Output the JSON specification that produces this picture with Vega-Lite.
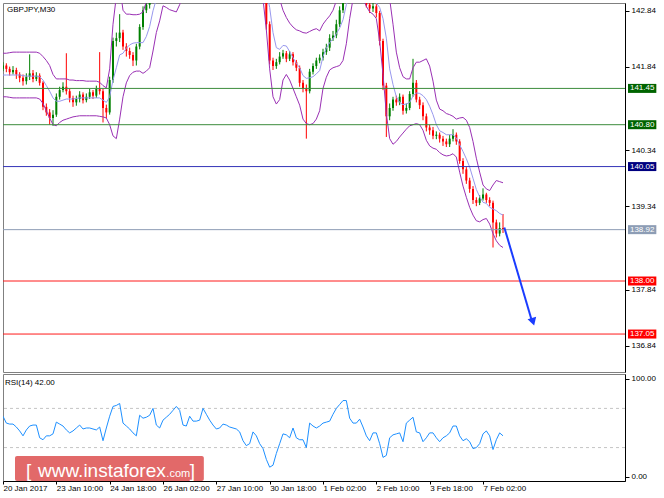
{
"$schema":"https://vega.github.io/schema/vega-lite/v6.json",
"background":"white",
"padding":{"left":2,"top":2,"right":0,"bottom":0},
"spacing":0,
"config":{"font":"Liberation Sans","view":{"stroke":"#808080","strokeWidth":1},
"scale":{"continuousPadding":0},
"axis":{"labelFont":"Liberation Sans","labelFontSize":8,"labelColor":"#000","tickColor":"#000","domainColor":"#000","grid":false,"tickSize":4,"labelPadding":2,"labelOverlap":false}},
"datasets":{
"px":[
{"i":0,"o":141.80,"h":141.92,"l":141.76,"c":141.86,"u":142.08,"m":141.69,"b":141.30,"r":62},
{"i":4,"o":141.86,"h":141.90,"l":141.74,"c":141.80,"u":142.08,"m":141.69,"b":141.30,"r":55},
{"i":8,"o":141.80,"h":141.84,"l":141.68,"c":141.74,"u":142.09,"m":141.69,"b":141.29,"r":54},
{"i":12,"o":141.74,"h":141.85,"l":141.70,"c":141.78,"u":142.10,"m":141.69,"b":141.28,"r":54},
{"i":16,"o":141.78,"h":141.82,"l":141.62,"c":141.70,"u":142.10,"m":141.69,"b":141.28,"r":51},
{"i":20,"o":141.70,"h":141.74,"l":141.56,"c":141.64,"u":142.10,"m":141.69,"b":141.28,"r":47},
{"i":24,"o":141.64,"h":141.70,"l":141.50,"c":141.58,"u":142.10,"m":141.68,"b":141.28,"r":42},
{"i":28,"o":141.58,"h":141.72,"l":141.52,"c":141.66,"u":142.10,"m":141.67,"b":141.28,"r":48},
{"i":32,"o":141.66,"h":142.06,"l":141.60,"c":141.72,"u":142.10,"m":141.67,"b":141.28,"r":52},
{"i":36,"o":141.72,"h":141.78,"l":141.56,"c":141.62,"u":142.10,"m":141.67,"b":141.28,"r":53},
{"i":40,"o":141.62,"h":141.74,"l":141.58,"c":141.68,"u":142.10,"m":141.67,"b":141.28,"r":53},
{"i":44,"o":141.68,"h":141.72,"l":141.50,"c":141.55,"u":142.08,"m":141.66,"b":141.26,"r":40},
{"i":48,"o":141.55,"h":141.58,"l":141.06,"c":141.12,"u":142.02,"m":141.60,"b":141.18,"r":38},
{"i":52,"o":141.12,"h":141.18,"l":140.96,"c":141.02,"u":141.95,"m":141.50,"b":141.05,"r":42},
{"i":56,"o":141.02,"h":141.08,"l":140.80,"c":140.92,"u":141.86,"m":141.40,"b":140.92,"r":42},
{"i":60,"o":140.92,"h":141.06,"l":140.78,"c":140.98,"u":141.70,"m":141.28,"b":140.80,"r":44},
{"i":64,"o":140.98,"h":141.36,"l":140.94,"c":141.30,"u":141.62,"m":141.22,"b":140.78,"r":56},
{"i":68,"o":141.30,"h":141.48,"l":141.25,"c":141.42,"u":141.62,"m":141.22,"b":140.84,"r":54},
{"i":72,"o":141.42,"h":141.56,"l":141.38,"c":141.48,"u":141.62,"m":141.24,"b":140.88,"r":52},
{"i":76,"o":141.48,"h":142.08,"l":141.34,"c":141.40,"u":141.62,"m":141.26,"b":140.90,"r":48},
{"i":80,"o":141.40,"h":141.44,"l":141.20,"c":141.28,"u":141.60,"m":141.26,"b":140.92,"r":45},
{"i":84,"o":141.28,"h":141.32,"l":141.12,"c":141.20,"u":141.60,"m":141.26,"b":140.94,"r":47},
{"i":88,"o":141.20,"h":141.32,"l":141.14,"c":141.26,"u":141.59,"m":141.27,"b":140.95,"r":50},
{"i":92,"o":141.26,"h":141.40,"l":141.20,"c":141.34,"u":141.59,"m":141.28,"b":140.96,"r":53},
{"i":96,"o":141.34,"h":141.38,"l":141.18,"c":141.24,"u":141.59,"m":141.28,"b":140.96,"r":49},
{"i":100,"o":141.24,"h":141.36,"l":141.20,"c":141.30,"u":141.58,"m":141.28,"b":140.96,"r":50},
{"i":104,"o":141.30,"h":141.44,"l":141.26,"c":141.38,"u":141.58,"m":141.28,"b":140.96,"r":50},
{"i":108,"o":141.38,"h":141.42,"l":141.26,"c":141.32,"u":141.58,"m":141.28,"b":140.96,"r":49},
{"i":112,"o":141.32,"h":141.50,"l":141.28,"c":141.44,"u":141.58,"m":141.28,"b":140.96,"r":48},
{"i":116,"o":141.44,"h":142.10,"l":141.34,"c":141.40,"u":141.56,"m":141.28,"b":140.95,"r":51},
{"i":120,"o":141.40,"h":141.44,"l":140.84,"c":141.10,"u":141.50,"m":141.24,"b":140.94,"r":37},
{"i":124,"o":141.10,"h":141.16,"l":140.92,"c":141.02,"u":141.46,"m":141.20,"b":140.92,"r":50},
{"i":128,"o":141.02,"h":141.66,"l":140.98,"c":141.60,"u":141.80,"m":141.30,"b":140.80,"r":62},
{"i":132,"o":141.60,"h":142.36,"l":141.55,"c":142.30,"u":142.60,"m":141.60,"b":140.60,"r":72},
{"i":136,"o":142.30,"h":142.45,"l":142.20,"c":142.35,"u":143.10,"m":141.82,"b":140.55,"r":73},
{"i":140,"o":142.35,"h":142.78,"l":142.28,"c":142.45,"u":143.30,"m":142.05,"b":140.90,"r":75},
{"i":144,"o":142.45,"h":142.50,"l":142.14,"c":142.20,"u":142.85,"m":142.08,"b":141.30,"r":55},
{"i":148,"o":142.20,"h":142.26,"l":142.02,"c":142.12,"u":142.78,"m":142.17,"b":141.55,"r":52},
{"i":152,"o":142.12,"h":142.18,"l":141.98,"c":142.05,"u":142.78,"m":142.23,"b":141.68,"r":49},
{"i":156,"o":142.05,"h":142.10,"l":141.85,"c":141.95,"u":142.77,"m":142.26,"b":141.74,"r":45},
{"i":160,"o":141.95,"h":142.25,"l":141.86,"c":142.20,"u":142.77,"m":142.27,"b":141.76,"r":42},
{"i":164,"o":142.20,"h":142.60,"l":142.15,"c":142.55,"u":142.78,"m":142.27,"b":141.76,"r":63},
{"i":168,"o":142.55,"h":142.92,"l":142.50,"c":142.85,"u":142.82,"m":142.27,"b":141.72,"r":60},
{"i":172,"o":142.85,"h":143.05,"l":142.80,"c":142.95,"u":143.00,"m":142.38,"b":141.76,"r":61},
{"i":176,"o":142.95,"h":143.15,"l":142.88,"c":143.05,"u":143.30,"m":142.56,"b":141.82,"r":63},
{"i":180,"o":143.05,"h":143.20,"l":142.98,"c":143.10,"u":143.55,"m":142.84,"b":142.12,"r":70},
{"i":184,"o":143.10,"h":143.28,"l":143.02,"c":143.20,"u":143.65,"m":143.05,"b":142.45,"r":53},
{"i":188,"o":143.20,"h":143.32,"l":143.12,"c":143.25,"u":143.72,"m":143.19,"b":142.66,"r":50},
{"i":192,"o":143.25,"h":143.42,"l":143.18,"c":143.35,"u":143.80,"m":143.37,"b":142.93,"r":58},
{"i":196,"o":143.35,"h":143.48,"l":143.30,"c":143.42,"u":143.85,"m":143.38,"b":142.90,"r":61},
{"i":200,"o":143.42,"h":143.55,"l":143.36,"c":143.48,"u":143.92,"m":143.40,"b":142.86,"r":64},
{"i":204,"o":143.48,"h":143.60,"l":143.42,"c":143.55,"u":144.00,"m":143.42,"b":142.84,"r":68},
{"i":208,"o":143.55,"h":143.70,"l":143.50,"c":143.62,"u":144.08,"m":143.45,"b":142.82,"r":72},
{"i":212,"o":143.62,"h":143.66,"l":143.44,"c":143.50,"u":144.12,"m":143.50,"b":142.95,"r":68},
{"i":216,"o":143.50,"h":143.55,"l":143.38,"c":143.45,"u":144.10,"m":143.55,"b":143.15,"r":53},
{"i":220,"o":143.45,"h":143.58,"l":143.40,"c":143.52,"u":144.08,"m":143.58,"b":143.20,"r":52},
{"i":224,"o":143.52,"h":143.66,"l":143.48,"c":143.60,"u":144.06,"m":143.60,"b":143.22,"r":62},
{"i":228,"o":143.60,"h":143.64,"l":143.50,"c":143.55,"u":144.02,"m":143.62,"b":143.25,"r":57},
{"i":232,"o":143.55,"h":143.64,"l":143.50,"c":143.58,"u":144.00,"m":143.63,"b":143.28,"r":57},
{"i":236,"o":143.58,"h":143.68,"l":143.52,"c":143.62,"u":143.98,"m":143.63,"b":143.30,"r":58},
{"i":240,"o":143.62,"h":143.76,"l":143.58,"c":143.70,"u":144.02,"m":143.64,"b":143.30,"r":70},
{"i":244,"o":143.70,"h":143.74,"l":143.56,"c":143.62,"u":144.02,"m":143.63,"b":143.28,"r":64},
{"i":248,"o":143.62,"h":143.66,"l":143.52,"c":143.58,"u":144.00,"m":143.61,"b":143.26,"r":58},
{"i":252,"o":143.58,"h":143.62,"l":143.46,"c":143.52,"u":143.96,"m":143.59,"b":143.24,"r":53},
{"i":256,"o":143.52,"h":143.56,"l":143.42,"c":143.48,"u":143.92,"m":143.57,"b":143.22,"r":49},
{"i":260,"o":143.48,"h":143.58,"l":143.44,"c":143.52,"u":143.90,"m":143.55,"b":143.20,"r":50},
{"i":264,"o":143.52,"h":143.60,"l":143.48,"c":143.55,"u":143.88,"m":143.54,"b":143.20,"r":54},
{"i":268,"o":143.55,"h":143.58,"l":143.44,"c":143.50,"u":143.86,"m":143.53,"b":143.20,"r":53},
{"i":272,"o":143.50,"h":143.54,"l":143.42,"c":143.48,"u":143.84,"m":143.52,"b":143.20,"r":51},
{"i":276,"o":143.48,"h":143.52,"l":143.40,"c":143.46,"u":143.82,"m":143.50,"b":143.18,"r":50},
{"i":280,"o":143.46,"h":143.50,"l":143.38,"c":143.44,"u":143.80,"m":143.48,"b":143.16,"r":49},
{"i":284,"o":143.44,"h":143.48,"l":143.34,"c":143.40,"u":143.80,"m":143.46,"b":143.12,"r":46},
{"i":288,"o":143.40,"h":143.44,"l":143.26,"c":143.32,"u":143.82,"m":143.44,"b":143.08,"r":37},
{"i":292,"o":143.32,"h":143.36,"l":143.22,"c":143.28,"u":143.85,"m":143.43,"b":143.06,"r":32},
{"i":296,"o":143.28,"h":143.40,"l":143.24,"c":143.34,"u":143.88,"m":143.43,"b":143.06,"r":34},
{"i":300,"o":143.34,"h":143.48,"l":143.30,"c":143.42,"u":143.90,"m":143.44,"b":143.08,"r":46},
{"i":304,"o":143.42,"h":143.46,"l":143.30,"c":143.35,"u":143.92,"m":143.44,"b":143.08,"r":42},
{"i":308,"o":143.35,"h":143.40,"l":143.22,"c":143.28,"u":144.00,"m":143.43,"b":143.06,"r":34},
{"i":312,"o":143.28,"h":143.32,"l":143.04,"c":143.10,"u":144.30,"m":143.40,"b":143.05,"r":29},
{"i":316,"o":143.10,"h":143.12,"l":142.50,"c":142.60,"u":144.20,"m":143.20,"b":142.50,"r":18},
{"i":320,"o":142.60,"h":142.65,"l":141.88,"c":141.95,"u":144.00,"m":142.90,"b":141.80,"r":10},
{"i":324,"o":141.95,"h":142.00,"l":141.78,"c":141.85,"u":143.60,"m":142.45,"b":141.30,"r":12},
{"i":328,"o":141.85,"h":141.98,"l":141.80,"c":141.92,"u":143.20,"m":142.18,"b":141.17,"r":24},
{"i":332,"o":141.92,"h":142.10,"l":141.88,"c":142.02,"u":143.05,"m":142.15,"b":141.25,"r":34},
{"i":336,"o":142.02,"h":142.14,"l":141.98,"c":142.08,"u":142.85,"m":142.22,"b":141.60,"r":44},
{"i":340,"o":142.08,"h":142.12,"l":141.92,"c":141.98,"u":142.72,"m":142.21,"b":141.70,"r":43},
{"i":344,"o":141.98,"h":142.12,"l":141.94,"c":142.06,"u":142.62,"m":142.11,"b":141.60,"r":40},
{"i":348,"o":142.06,"h":142.10,"l":141.86,"c":141.92,"u":142.55,"m":142.00,"b":141.45,"r":50},
{"i":352,"o":141.92,"h":141.96,"l":141.76,"c":141.82,"u":142.50,"m":141.90,"b":141.30,"r":40},
{"i":356,"o":141.82,"h":141.86,"l":141.48,"c":141.55,"u":142.48,"m":141.82,"b":141.15,"r":38},
{"i":360,"o":141.55,"h":141.60,"l":141.38,"c":141.45,"u":142.45,"m":141.68,"b":140.90,"r":38},
{"i":364,"o":141.45,"h":141.52,"l":140.55,"c":141.40,"u":142.44,"m":141.63,"b":140.82,"r":30},
{"i":368,"o":141.40,"h":141.80,"l":141.36,"c":141.75,"u":142.47,"m":141.64,"b":140.80,"r":55},
{"i":372,"o":141.75,"h":141.90,"l":141.70,"c":141.85,"u":142.50,"m":141.66,"b":140.82,"r":52},
{"i":376,"o":141.85,"h":142.00,"l":141.80,"c":141.95,"u":142.52,"m":141.71,"b":140.90,"r":50},
{"i":380,"o":141.95,"h":142.06,"l":141.90,"c":142.00,"u":142.48,"m":141.77,"b":141.05,"r":52},
{"i":384,"o":142.00,"h":142.16,"l":141.95,"c":142.10,"u":142.60,"m":142.02,"b":141.45,"r":55},
{"i":388,"o":142.10,"h":142.25,"l":142.05,"c":142.18,"u":142.68,"m":142.17,"b":141.65,"r":56},
{"i":392,"o":142.18,"h":142.42,"l":142.12,"c":142.35,"u":142.75,"m":142.27,"b":141.78,"r":57},
{"i":396,"o":142.35,"h":142.48,"l":142.30,"c":142.40,"u":142.85,"m":142.34,"b":141.82,"r":64},
{"i":400,"o":142.40,"h":142.68,"l":142.35,"c":142.60,"u":143.02,"m":142.43,"b":141.84,"r":70},
{"i":404,"o":142.60,"h":142.92,"l":142.55,"c":142.85,"u":143.20,"m":142.53,"b":141.86,"r":74},
{"i":408,"o":142.85,"h":143.12,"l":142.80,"c":143.05,"u":143.40,"m":142.68,"b":141.95,"r":78},
{"i":412,"o":143.05,"h":143.22,"l":143.00,"c":143.15,"u":143.60,"m":142.95,"b":142.25,"r":78},
{"i":416,"o":143.15,"h":143.20,"l":143.04,"c":143.10,"u":143.80,"m":143.10,"b":142.70,"r":60},
{"i":420,"o":143.10,"h":143.18,"l":143.06,"c":143.12,"u":143.90,"m":143.20,"b":143.05,"r":55},
{"i":424,"o":143.12,"h":143.20,"l":143.08,"c":143.15,"u":144.00,"m":143.25,"b":143.20,"r":55},
{"i":428,"o":143.15,"h":143.24,"l":143.10,"c":143.18,"u":144.00,"m":143.25,"b":143.20,"r":59},
{"i":432,"o":143.18,"h":143.22,"l":143.05,"c":143.10,"u":143.95,"m":143.20,"b":143.05,"r":51},
{"i":436,"o":143.10,"h":143.12,"l":142.90,"c":142.95,"u":143.90,"m":143.15,"b":142.92,"r":42},
{"i":440,"o":142.95,"h":143.00,"l":142.80,"c":142.88,"u":143.80,"m":143.08,"b":142.82,"r":37},
{"i":444,"o":142.88,"h":142.98,"l":142.82,"c":142.92,"u":143.70,"m":143.02,"b":142.78,"r":45},
{"i":448,"o":142.92,"h":142.96,"l":142.72,"c":142.80,"u":143.60,"m":142.98,"b":142.70,"r":45},
{"i":452,"o":142.80,"h":142.84,"l":142.22,"c":142.30,"u":143.60,"m":142.90,"b":142.30,"r":34},
{"i":456,"o":142.30,"h":142.34,"l":141.42,"c":141.50,"u":143.70,"m":142.70,"b":141.70,"r":20},
{"i":460,"o":141.50,"h":141.55,"l":140.58,"c":140.95,"u":143.60,"m":142.35,"b":141.00,"r":22},
{"i":464,"o":140.95,"h":141.18,"l":140.88,"c":141.10,"u":143.05,"m":141.80,"b":140.55,"r":40},
{"i":468,"o":141.10,"h":141.30,"l":141.05,"c":141.25,"u":142.60,"m":141.52,"b":140.45,"r":43},
{"i":472,"o":141.25,"h":141.32,"l":141.14,"c":141.20,"u":142.10,"m":141.30,"b":140.50,"r":44},
{"i":476,"o":141.20,"h":141.36,"l":141.15,"c":141.30,"u":141.82,"m":141.20,"b":140.58,"r":45},
{"i":480,"o":141.30,"h":141.34,"l":140.98,"c":141.05,"u":141.66,"m":141.16,"b":140.65,"r":36},
{"i":484,"o":141.05,"h":141.18,"l":141.00,"c":141.10,"u":141.62,"m":141.17,"b":140.72,"r":55},
{"i":488,"o":141.10,"h":141.40,"l":141.06,"c":141.35,"u":141.62,"m":141.20,"b":140.78,"r":58},
{"i":492,"o":141.35,"h":141.98,"l":141.30,"c":141.55,"u":141.82,"m":141.31,"b":140.80,"r":61},
{"i":496,"o":141.55,"h":141.60,"l":141.20,"c":141.25,"u":141.92,"m":141.37,"b":140.82,"r":46},
{"i":500,"o":141.25,"h":141.30,"l":141.08,"c":141.15,"u":141.92,"m":141.36,"b":140.80,"r":45},
{"i":504,"o":141.15,"h":141.20,"l":140.88,"c":140.95,"u":141.95,"m":141.32,"b":140.70,"r":36},
{"i":508,"o":140.95,"h":141.00,"l":140.68,"c":140.75,"u":141.98,"m":141.25,"b":140.52,"r":40},
{"i":512,"o":140.75,"h":140.80,"l":140.62,"c":140.70,"u":141.85,"m":141.13,"b":140.42,"r":45},
{"i":516,"o":140.70,"h":140.76,"l":140.54,"c":140.60,"u":141.58,"m":140.98,"b":140.38,"r":45},
{"i":520,"o":140.60,"h":140.68,"l":140.54,"c":140.62,"u":141.24,"m":140.80,"b":140.36,"r":40},
{"i":524,"o":140.62,"h":140.66,"l":140.48,"c":140.55,"u":141.08,"m":140.69,"b":140.30,"r":36},
{"i":528,"o":140.55,"h":140.60,"l":140.42,"c":140.50,"u":141.05,"m":140.66,"b":140.26,"r":40},
{"i":532,"o":140.50,"h":140.55,"l":140.40,"c":140.45,"u":141.00,"m":140.62,"b":140.24,"r":42},
{"i":536,"o":140.45,"h":140.62,"l":140.40,"c":140.55,"u":140.98,"m":140.62,"b":140.25,"r":45},
{"i":540,"o":140.55,"h":140.72,"l":140.50,"c":140.62,"u":140.95,"m":140.62,"b":140.28,"r":52},
{"i":544,"o":140.62,"h":140.66,"l":140.44,"c":140.50,"u":140.90,"m":140.56,"b":140.22,"r":52},
{"i":548,"o":140.50,"h":140.54,"l":140.10,"c":140.15,"u":140.92,"m":140.44,"b":139.95,"r":42},
{"i":552,"o":140.15,"h":140.20,"l":139.92,"c":140.00,"u":140.93,"m":140.32,"b":139.70,"r":37},
{"i":556,"o":140.00,"h":140.04,"l":139.74,"c":139.80,"u":140.88,"m":140.19,"b":139.50,"r":39},
{"i":560,"o":139.80,"h":139.85,"l":139.58,"c":139.65,"u":140.75,"m":140.04,"b":139.32,"r":36},
{"i":564,"o":139.65,"h":139.70,"l":139.38,"c":139.45,"u":140.50,"m":139.84,"b":139.18,"r":29},
{"i":568,"o":139.45,"h":139.50,"l":139.34,"c":139.40,"u":140.20,"m":139.64,"b":139.08,"r":30},
{"i":572,"o":139.40,"h":139.54,"l":139.36,"c":139.48,"u":139.95,"m":139.51,"b":139.06,"r":34},
{"i":576,"o":139.48,"h":139.66,"l":139.44,"c":139.55,"u":139.72,"m":139.41,"b":139.10,"r":44},
{"i":580,"o":139.55,"h":139.58,"l":139.40,"c":139.45,"u":139.65,"m":139.39,"b":139.12,"r":47},
{"i":584,"o":139.45,"h":139.50,"l":139.34,"c":139.40,"u":139.62,"m":139.32,"b":139.02,"r":42},
{"i":588,"o":139.40,"h":139.44,"l":138.60,"c":139.05,"u":139.72,"m":139.29,"b":138.85,"r":28},
{"i":592,"o":139.05,"h":139.10,"l":138.78,"c":138.85,"u":139.80,"m":139.26,"b":138.72,"r":38},
{"i":596,"o":138.85,"h":139.05,"l":138.80,"c":138.95,"u":139.78,"m":139.21,"b":138.64,"r":45},
{"i":600,"o":138.95,"h":139.20,"l":138.86,"c":138.92,"u":139.76,"m":139.18,"b":138.60,"r":42}
],
"lv":[{"p":141.45,"k":"R"},{"p":140.80,"k":"R"},{"p":140.05,"k":"P"},{"p":138.92,"k":"C"},{"p":138.00,"k":"S"},{"p":137.05,"k":"S"}],
"rg":[{"v":30},{"v":70}]
},
"vconcat":[
{
"width":622,"height":369,
"layer":[
{"data":{"name":"px"},"mark":{"type":"rule","clip":true,"strokeWidth":1},
 "encoding":{
  "x":{"field":"i","type":"quantitative","scale":{"domain":[0,746.4],"nice":false,"zero":false,"padding":0},"axis":null,"title":null},
  "y":{"field":"l","type":"quantitative","scale":{"domain":[136.37,142.98],"nice":false,"zero":false,"padding":0},"title":null,
       "axis":{"orient":"right","values":[136.84,137.34,137.84,138.34,139.34,139.84,140.34,141.34,141.84,142.34,142.84],"format":".2f","labelPadding":2}},
  "y2":{"field":"h"},
  "color":{"condition":{"test":"datum.c >= datum.o","value":"#008000"},"value":"#ff0000"}}},
{"data":{"name":"px"},"mark":{"type":"rule","clip":true,"strokeWidth":2},
 "encoding":{
  "x":{"field":"i","type":"quantitative","axis":null,"title":null},
  "y":{"field":"o","type":"quantitative","title":null},
  "y2":{"field":"c"},
  "color":{"condition":{"test":"datum.c >= datum.o","value":"#008000"},"value":"#ff0000"}}},
{"data":{"name":"px"},"mark":{"type":"line","clip":true,"color":"#9a30b4","strokeWidth":1},
 "encoding":{"x":{"field":"i","type":"quantitative","axis":null,"title":null},"y":{"field":"u","type":"quantitative","title":null}}},
{"data":{"name":"px"},"mark":{"type":"line","clip":true,"color":"#9a30b4","strokeWidth":1},
 "encoding":{"x":{"field":"i","type":"quantitative","axis":null,"title":null},"y":{"field":"b","type":"quantitative","title":null}}},
{"data":{"name":"px"},"mark":{"type":"line","clip":true,"color":"#9898ee","strokeWidth":1},
 "encoding":{"x":{"field":"i","type":"quantitative","axis":null,"title":null},"y":{"field":"m","type":"quantitative","title":null}}},
{"data":{"name":"lv"},"mark":{"type":"rule","strokeWidth":1},
 "encoding":{"y":{"field":"p","type":"quantitative","title":null},
  "stroke":{"field":"k","type":"nominal","scale":{"domain":["R","P","C","S"],"range":["#3c8c3c","#3535b8","#8d9db5","#ff1a1a"]},"legend":null}}},
{"data":{"name":"lv"},"mark":{"type":"bar","orient":"horizontal","size":9,"clip":false},
 "encoding":{"x":{"datum":750,"type":"quantitative","axis":null},"x2":{"datum":784},
  "y":{"field":"p","type":"quantitative","title":null,"scale":{"padding":0}},
  "fill":{"field":"k","type":"nominal","scale":{"domain":["R","P","C","S"],"range":["#006400","#000080","#8d9db5","#ff0000"]},"legend":null}}},
{"data":{"name":"lv"},"mark":{"type":"text","color":"white","fontSize":8,"align":"center","baseline":"middle","clip":false},
 "encoding":{"x":{"datum":767,"type":"quantitative","axis":null},"y":{"field":"p","type":"quantitative","title":null},"text":{"field":"p","format":".2f"}}},
{"data":{"values":[{}]},"mark":{"type":"rule","color":"#1a3cff","strokeWidth":2},
 "encoding":{"x":{"datum":601.6,"type":"quantitative","axis":null},"x2":{"datum":634},"y":{"datum":138.96,"type":"quantitative"},"y2":{"datum":137.32}}},
{"data":{"values":[{}]},"mark":{"type":"point","shape":"triangle-down","size":80,"angle":-17,"filled":true,"color":"#1a3cff","opacity":1},
 "encoding":{"x":{"datum":636,"type":"quantitative","axis":null},"y":{"datum":137.27,"type":"quantitative"}}},
{"data":{"values":[{}]},"mark":{"type":"text","text":"GBPJPY,M30","fontSize":8,"align":"left","baseline":"alphabetic","color":"#000"},
 "encoding":{"x":{"datum":4.8,"type":"quantitative","axis":null},"y":{"datum":142.81,"type":"quantitative"}}}
]
},
{
"width":622,"height":107,
"layer":[
{"data":{"name":"rg"},"mark":{"type":"rule","color":"#c4c4c4","strokeDash":[3,3],"strokeWidth":1},
 "encoding":{"y":{"field":"v","type":"quantitative","scale":{"domain":[-4.1,105.1],"nice":false,"zero":false,"padding":0},"title":null,
   "axis":{"orient":"right","values":[0,30,70,100],"format":".2f","labelPadding":2}}}},
{"data":{"name":"px"},"mark":{"type":"line","color":"#1e90ff","strokeWidth":1,"clip":true},
 "encoding":{
  "x":{"field":"i","type":"quantitative","scale":{"domain":[0,746.4],"nice":false,"zero":false,"padding":0},"title":null,
   "axis":{"values":[0,64,128,192,256,320,384,448,512,576],"labelExpr":"['20 Jan 2017','23 Jan 10:00','24 Jan 18:00','26 Jan 02:00','27 Jan 10:00','30 Jan 18:00','1 Feb 02:00','2 Feb 10:00','3 Feb 18:00','7 Feb 02:00'][round(datum.value/64)]","labelAlign":"left","labelBaseline":"top","labelPadding":0,"tickSize":3,"labelFlush":false,"labelDx":1}},
  "y":{"field":"r","type":"quantitative","title":null}}},
{"data":{"values":[{}]},"mark":{"type":"rect","color":"#df5c5c","opacity":0.92,"cornerRadius":2},
 "encoding":{"x":{"datum":14.4,"type":"quantitative"},"x2":{"datum":241},"y":{"datum":-4.1,"type":"quantitative"},"y2":{"datum":21.4}}},
{"data":{"values":[{}]},"mark":{"type":"text","text":"[","fontSize":19,"align":"left","baseline":"alphabetic","color":"white"},
 "encoding":{"x":{"datum":27.6,"type":"quantitative"},"y":{"datum":-0.5,"type":"quantitative"}}},
{"data":{"values":[{}]},"mark":{"type":"text","text":"www.instaforex","fontSize":19,"align":"left","baseline":"alphabetic","color":"white"},
 "encoding":{"x":{"datum":42,"type":"quantitative"},"y":{"datum":-0.5,"type":"quantitative"}}},
{"data":{"values":[{}]},"mark":{"type":"text","text":".com","fontSize":11,"align":"left","baseline":"alphabetic","color":"white"},
 "encoding":{"x":{"datum":196,"type":"quantitative"},"y":{"datum":-0.5,"type":"quantitative"}}},
{"data":{"values":[{}]},"mark":{"type":"text","text":"]","fontSize":19,"align":"left","baseline":"alphabetic","color":"white"},
 "encoding":{"x":{"datum":224,"type":"quantitative"},"y":{"datum":-0.5,"type":"quantitative"}}},
{"data":{"values":[{}]},"mark":{"type":"text","text":"RSI(14) 42.00","fontSize":8,"align":"left","baseline":"alphabetic","color":"#000"},
 "encoding":{"x":{"datum":2.4,"type":"quantitative"},"y":{"datum":94,"type":"quantitative"}}}
]
}
]
}
